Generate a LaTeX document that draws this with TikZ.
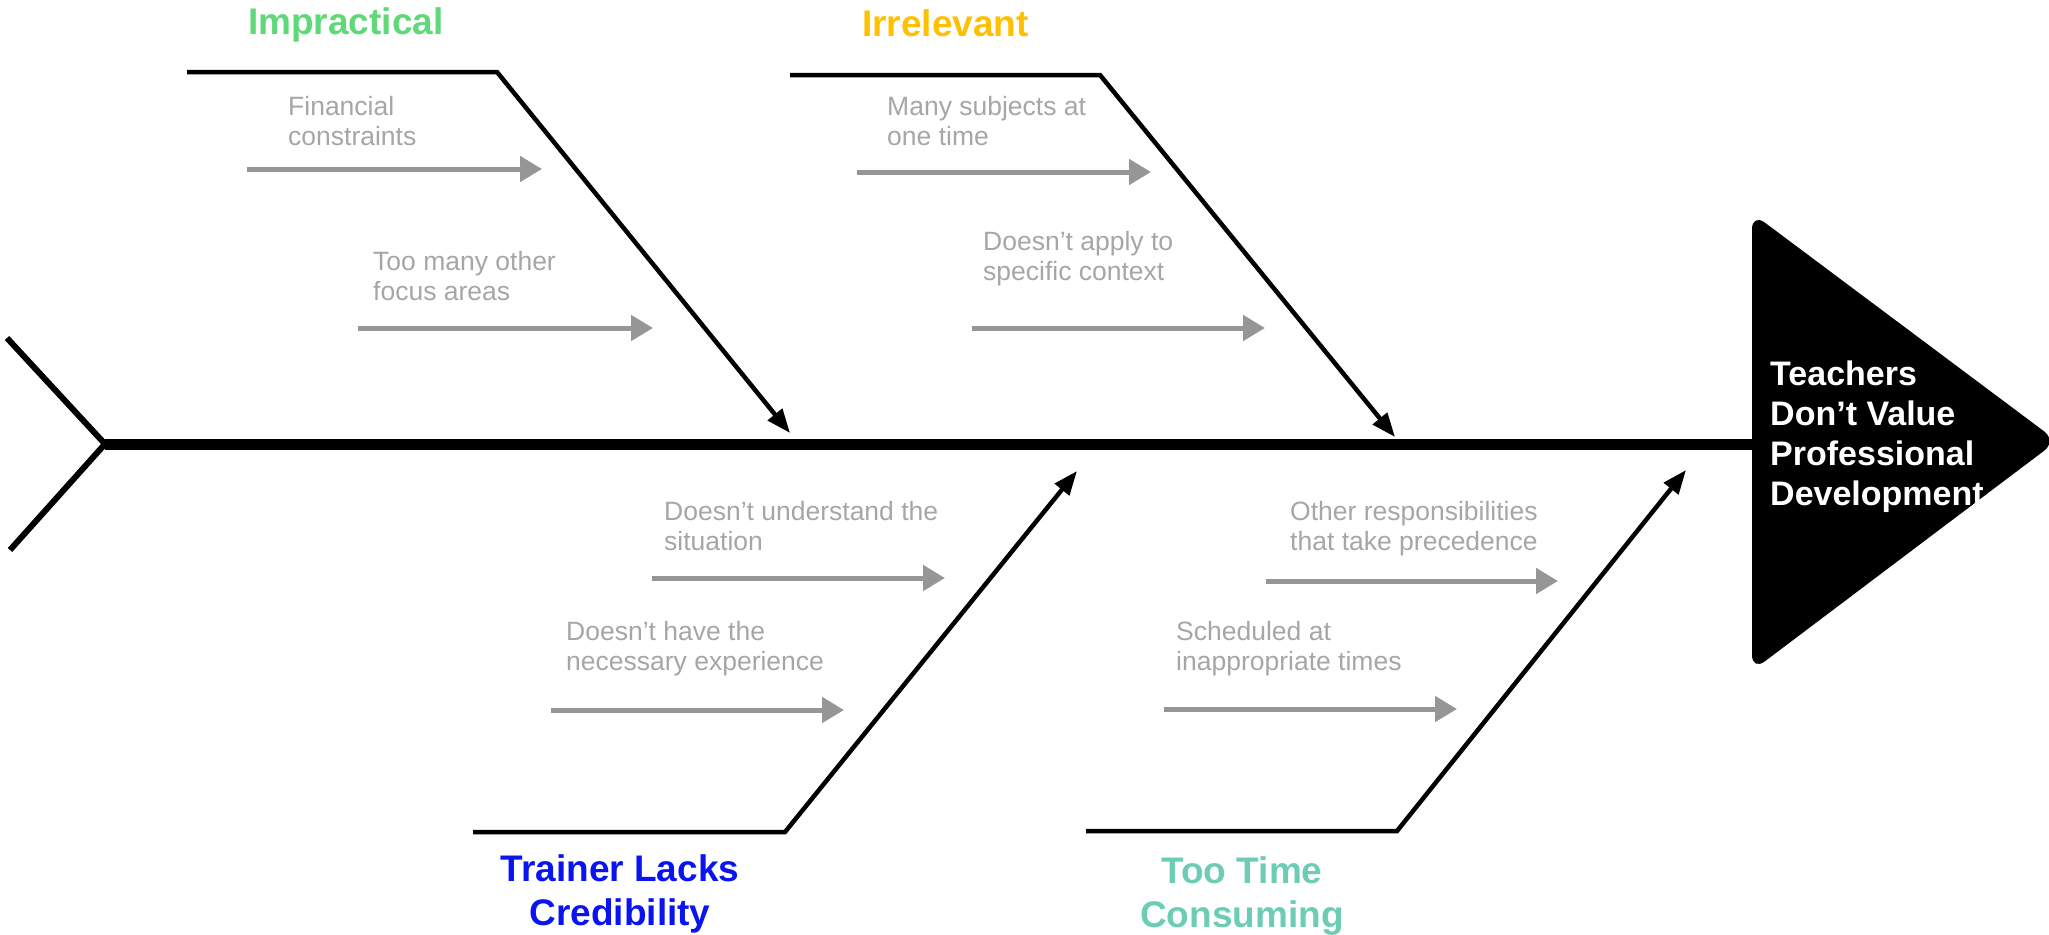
\documentclass[tikz,border=0pt]{standalone}
\usepackage{fontspec}
\setmainfont{Liberation Sans}
\usetikzlibrary{arrows.meta}
\definecolor{impgreen}{RGB}{94,216,120}
\definecolor{irrorange}{RGB}{255,192,0}
\definecolor{trnblue}{RGB}{10,20,240}
\definecolor{ttcteal}{RGB}{108,204,180}
\definecolor{txtgray}{RGB}{166,166,166}
\definecolor{arrgray}{RGB}{150,150,150}
\begin{document}
\begin{tikzpicture}[x=1pt,y=-1pt,
  bone/.style={line width=4.5pt, line join=miter, -{Triangle[length=24pt,width=18pt]}},
  sub/.style={draw=arrgray, line width=5pt, -{Triangle[length=22pt,width=25pt]}},
  cause/.style={text=txtgray, font=\fontsize{26.5}{30}\selectfont, align=left, anchor=base west, inner sep=0pt},
  cat/.style={font=\fontsize{37}{44}\selectfont\bfseries, inner sep=0pt},
  effecttext/.style={text=white, font=\fontsize{34}{40}\selectfont\bfseries, align=left, anchor=base west, inner sep=0pt}]
\useasboundingbox (0,0) rectangle (2049,934);

% spine and tail
\coordinate (tailT) at (7,338);
\coordinate (tailB) at (10,550);
\coordinate (joint) at (105,444);
\coordinate (headL) at (1752,444);
\draw[line width=6pt, line join=miter] (tailT) -- (joint) -- (tailB);
\draw[line width=11pt] (joint) -- (headL);

% head
\coordinate (hT) at (1752,213);
\coordinate (hR) at (2057,441);
\coordinate (hB) at (1752,671);
\fill[black, rounded corners=16pt] (hT) -- (hR) -- (hB) -- cycle;
% anchor base = baseline of the last line
\node[effecttext] (effect) at (1770,505) {Teachers\\Don’t Value\\Professional\\Development};

% Impractical bone
\coordinate (b1s) at (187,72);
\coordinate (b1k) at (497,72);
\coordinate (b1e) at (790,433);
\draw[bone] (b1s) -- (b1k) -- (b1e);
\node[cat, text=impgreen, anchor=base west] (imp) at (248,35) {Impractical};

% Irrelevant bone
\coordinate (b2s) at (790,75);
\coordinate (b2k) at (1100,75);
\coordinate (b2e) at (1395,437);
\draw[bone] (b2s) -- (b2k) -- (b2e);
\node[cat, text=irrorange, anchor=base west] (irr) at (862,37) {Irrelevant};

% Trainer bone
\coordinate (b3s) at (473,832);
\coordinate (b3k) at (785,832);
\coordinate (b3e) at (1077,471);
\draw[bone] (b3s) -- (b3k) -- (b3e);
\node[cat, text=trnblue, align=center, anchor=base] (trn) at (620,925) {Trainer Lacks\\Credibility};

% Too Time bone
\coordinate (b4s) at (1086,831);
\coordinate (b4k) at (1397,831);
\coordinate (b4e) at (1686,470);
\draw[bone] (b4s) -- (b4k) -- (b4e);
\node[cat, text=ttcteal, align=center, anchor=base] (ttc) at (1242,927) {Too Time\\Consuming};

% causes
\node[cause] (c1) at (288,145) {Financial\\constraints};
\coordinate (a1s) at (247,169); \coordinate (a1e) at (542,169);
\draw[sub] (a1s) -- (a1e);

\node[cause] (c2) at (373,300) {Too many other\\focus areas};
\coordinate (a2s) at (358,328); \coordinate (a2e) at (653,328);
\draw[sub] (a2s) -- (a2e);

\node[cause] (c3) at (887,145) {Many subjects at\\one time};
\coordinate (a3s) at (857,172); \coordinate (a3e) at (1151,172);
\draw[sub] (a3s) -- (a3e);

\node[cause] (c4) at (983,280) {Doesn’t apply to\\specific context};
\coordinate (a4s) at (972,328); \coordinate (a4e) at (1265,328);
\draw[sub] (a4s) -- (a4e);

\node[cause] (c5) at (664,550) {Doesn’t understand the\\situation};
\coordinate (a5s) at (652,578); \coordinate (a5e) at (945,578);
\draw[sub] (a5s) -- (a5e);

\node[cause] (c6) at (566,670) {Doesn’t have the\\necessary experience};
\coordinate (a6s) at (551,710); \coordinate (a6e) at (844,710);
\draw[sub] (a6s) -- (a6e);

\node[cause] (c7) at (1290,550) {Other responsibilities\\that take precedence};
\coordinate (a7s) at (1266,581); \coordinate (a7e) at (1558,581);
\draw[sub] (a7s) -- (a7e);

\node[cause] (c8) at (1176,670) {Scheduled at\\inappropriate times};
\coordinate (a8s) at (1164,709); \coordinate (a8e) at (1457,709);
\draw[sub] (a8s) -- (a8e);
\end{tikzpicture}
\end{document}
